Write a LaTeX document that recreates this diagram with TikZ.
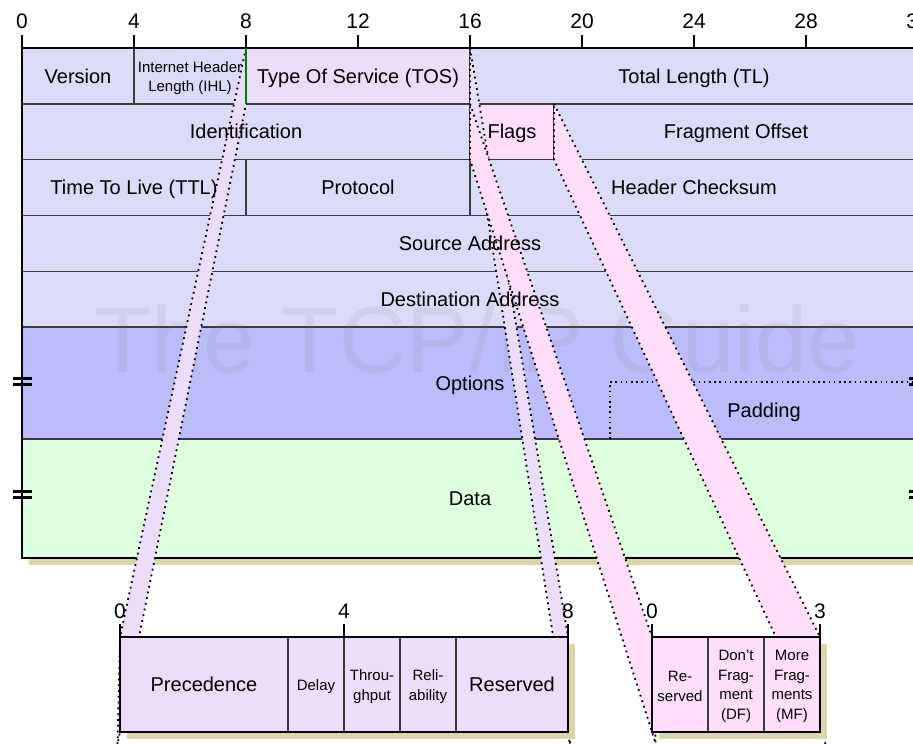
\documentclass[tikz,border=0pt]{standalone}
\usepackage{fontspec}
\setmainfont{Liberation Sans}
\usetikzlibrary{calc}

\definecolor{hdrblue}{RGB}{220,220,250}
\definecolor{optblue}{RGB}{188,188,250}
\definecolor{datagreen}{RGB}{222,255,222}
\definecolor{tospurple}{RGB}{236,222,250}
\definecolor{flagpink}{RGB}{255,222,250}
\definecolor{shadowkhaki}{RGB}{218,214,170}
\definecolor{rulegray}{RGB}{60,60,60}

\tikzset{
  cell/.style={draw=rulegray, line width=1.4pt, inner sep=0pt, outer sep=0pt, anchor=north west},
  frame/.style={draw=black, line width=2.6pt},
  lbl/.style={font=\fontsize{20}{24}\selectfont, align=center, inner sep=0pt,
    text height=14.4pt, text depth=0pt},
  smalllbl/.style={font=\fontsize{15}{19.5}\selectfont, align=center, inner sep=0pt},
  num/.style={font=\fontsize{21}{24}\selectfont, anchor=base, inner sep=0pt},
  tick/.style={line width=2.6pt},
  band/.style={draw=black, line width=1.8pt, dash pattern=on 1.8pt off 4pt},
  brk/.style={line width=2.2pt},
}

% header field: name, first bit, end bit, top, bottom, colour
\newcommand\hfield[6]{%
  \node[cell, fill=#6, minimum width={(#3-#2)*28pt}, minimum height={(#5-#4)*1pt}]
    (#1) at ({22+28*#2},#4) {};}
% expanded field: name, left edge, first bit, end bit, colour
\newcommand\xfield[5]{%
  \node[cell, fill=#5, minimum width={(#4-#3)*56pt}, minimum height=95pt]
    (#1) at ({#2+56*#3},637) {};}

\begin{document}
\begin{tikzpicture}[x=1pt,y=-1pt]
\clip (0,0) rectangle (913,744);
% shadow of the header
\fill[shadowkhaki] (29,55) rectangle (925,565);
% header rows
\hfield{ver}{0}{4}{48}{103.8}{hdrblue}
\hfield{ihl}{4}{8}{48}{103.8}{hdrblue}
\hfield{tos}{8}{16}{48}{103.8}{tospurple}
\hfield{tl}{16}{32}{48}{103.8}{hdrblue}
\hfield{id}{0}{16}{103.8}{159.6}{hdrblue}
\hfield{flg}{16}{19}{103.8}{159.6}{flagpink}
\hfield{fo}{19}{32}{103.8}{159.6}{hdrblue}
\hfield{ttl}{0}{8}{159.6}{215.4}{hdrblue}
\hfield{prot}{8}{16}{159.6}{215.4}{hdrblue}
\hfield{hcs}{16}{32}{159.6}{215.4}{hdrblue}
\hfield{src}{0}{32}{215.4}{271.2}{hdrblue}
\hfield{dst}{0}{32}{271.2}{327}{hdrblue}
\hfield{opt}{0}{32}{327}{439}{optblue}
\hfield{data}{0}{32}{439}{558}{datagreen}
\node[cell, draw=none, minimum width=308pt, minimum height=57pt] (pad) at (610,382) {};
\draw[line width=1.5pt, dash pattern=on 1.6pt off 3.6pt] (pad.south west) -- (pad.north west) -- (pad.north east);
\draw[frame] (ver.north west) rectangle (data.south east);

% bit scale
\foreach \b in {0,4,...,32} {
  \draw[tick] ({22+28*\b},35) -- ({22+28*\b},48);
  \node[num] (top\b) at ({22+28*\b},28) {\b};
}
% broken edges
\foreach \y in {378.5,384.5,491.5,497.5} {
  \draw[brk] (13,\y) -- (32,\y);
  \draw[brk] (909,\y) -- (928,\y);
}

% watermark
\node[font=\fontsize{93.6}{100}\selectfont, text=gray, text opacity=0.11, anchor=base, inner sep=0pt]
  (wm) at (477,372) {The TCP/IP Guide};

% expanded fields
\node[cell, draw=none, minimum width=448pt, minimum height=95pt] (tosx) at (120,637) {};
\node[cell, draw=none, minimum width=168pt, minimum height=95pt] (flx) at (652,637) {};

% funnels
\draw[band, fill=tospurple] (tos.north west) -- (tosx.north west)
  -- ($(tos.south west)!1.02!(tosx.south west)$) -- (tos.south west) -- cycle;
\draw[band, fill=tospurple] (tos.north east) -- (tosx.north east)
  -- ($(tos.south east)!1.02!(tosx.south east)$) -- (tos.south east) -- cycle;
\draw[band, fill=flagpink] (flg.north west) -- (flx.north west)
  -- ($(flg.south west)!1.02!(flx.south west)$) -- (flg.south west) -- cycle;
\draw[band, fill=flagpink] (flg.north east) -- (flx.north east)
  -- ($(flg.south east)!1.02!(flx.south east)$) -- (flg.south east) -- cycle;
\draw[green!50!black, line width=1.2pt] (tos.north west) -- (tos.south west);

% TOS and Flags boxes
\fill[shadowkhaki] ($(tosx.north west)+(7,7)$) rectangle ($(tosx.south east)+(7,7)$);
\fill[shadowkhaki] ($(flx.north west)+(7,7)$) rectangle ($(flx.south east)+(7,7)$);
\xfield{prec}{120}{0}{3}{tospurple}
\xfield{del}{120}{3}{4}{tospurple}
\xfield{thr}{120}{4}{5}{tospurple}
\xfield{rel}{120}{5}{6}{tospurple}
\xfield{resv}{120}{6}{8}{tospurple}
\xfield{rsv}{652}{0}{1}{flagpink}
\xfield{df}{652}{1}{2}{flagpink}
\xfield{mf}{652}{2}{3}{flagpink}
\draw[frame] (tosx.north west) rectangle (tosx.south east);
\draw[frame] (flx.north west) rectangle (flx.south east);
\foreach \b in {0,4,8} {
  \draw[tick] ({120+56*\b},624) -- ({120+56*\b},637);
  \node[num] (tn\b) at ({120+56*\b},618) {\b};
}
\foreach \b in {0,3} {
  \draw[tick] ({652+56*\b},624) -- ({652+56*\b},637);
  \node[num] (fn\b) at ({652+56*\b},618) {\b};
}

% labels
\foreach \c/\t in {ver/Version, tos/Type Of Service (TOS), tl/Total Length (TL),
    id/Identification, flg/Flags, fo/Fragment Offset, ttl/Time To Live (TTL),
    prot/Protocol, hcs/Header Checksum, src/Source Address,
    dst/Destination Address, opt/Options, pad/Padding, data/Data,
    prec/Precedence, resv/Reserved}
  \node[lbl] (\c-l) at (\c) {\t};
\foreach \c/\t in {ihl/{Internet Header\\Length (IHL)}, del/Delay,
    thr/{Throu-\\ghput}, rel/{Reli-\\ability}, rsv/{Re-\\served},
    df/{Don't\\Frag-\\ment\\(DF)}, mf/{More\\Frag-\\ments\\(MF)}}
  \node[smalllbl] (\c-l) at ($(\c)+(0,2)$) {\t};
\end{tikzpicture}
\end{document}
